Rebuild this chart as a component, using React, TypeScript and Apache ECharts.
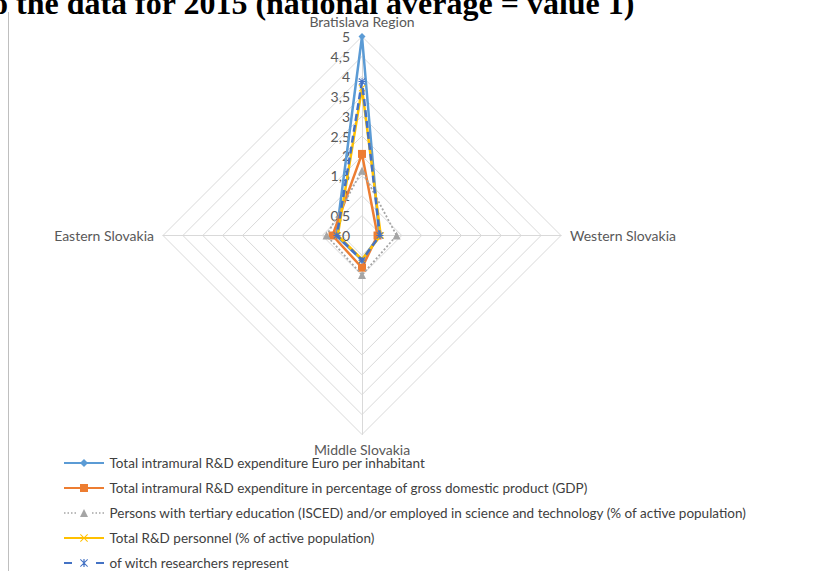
import React, { useEffect, useRef } from "react";
import * as echarts from "echarts";

const regions = ["Bratislava Region", "Eastern Slovakia", "Middle Slovakia", "Western Slovakia"];
const seriesNames = [
  "Total intramural R&D expenditure Euro per inhabitant",
  "Total intramural R&D expenditure in percentage of gross domestic product (GDP)",
  "Persons with tertiary education (ISCED) and/or employed in science and technology (% of active population)",
  "Total R&D personnel (% of active population)",
  "of witch researchers represent",
];
// values in order: Bratislava, Eastern, Middle, Western
const euroPerInhabitant = [5.0, 0.65, 0.62, 0.43];
const gdpShare = [2.05, 0.74, 0.81, 0.39];
const tertiaryEducation = [1.63, 0.89, 0.99, 0.87];
const rdPersonnel = [3.7, 0.61, 0.6, 0.47];
const researchers = [3.87, 0.63, 0.62, 0.45];
const axisMin = 0;
const axisMax = 5;
const axisSplits = 10;
const titleText = "o the data for 2015 (national average = value 1)";

const FONT = "Lato";

const icons = [
  "path://M0,3H40V5H0Z M20,0L24,4L20,8L16,4Z",
  "path://M0,3H40V5H0Z M16,0H24V8H16Z",
  "path://M0,3.3h1.5v1.5h-1.5Z M3.5,3.3h1.5v1.5h-1.5Z M7,3.3h1.5v1.5h-1.5Z M10.5,3.3h1.5v1.5h-1.5Z M28,3.3h1.5v1.5h-1.5Z M31.5,3.3h1.5v1.5h-1.5Z M35,3.3h1.5v1.5h-1.5Z M38.5,3.3h1.5v1.5h-1.5Z M20,0L24,8L16,8Z",
  "path://M0,3H40V5H0Z M16,0.7L16.7,0L20,3.3L23.3,0L24,0.7L20.7,4L24,7.3L23.3,8L20,4.7L16.7,8L16,7.3L19.3,4Z",
  "path://M0,3H8V5H0Z M32,3H40V5H32Z M16,0.7L16.7,0L20,3.3L23.3,0L24,0.7L20.7,4L24,7.3L23.3,8L20,4.7L16.7,8L16,7.3L19.3,4Z M19.4,0H20.6V8H19.4Z",
];

const xMark = "path://M0,1L1,0L5,4L9,0L10,1L6,5L10,9L9,10L5,6L1,10L0,9L4,5Z";
const asterisk = "path://M0,1L1,0L5,4L9,0L10,1L6,5L10,9L9,10L5,6L1,10L0,9L4,5Z M4.4,0H5.6V10H4.4Z M0,4.4H10V5.6H0Z";

export default function App() {
  const ref = useRef<HTMLDivElement>(null);
  useEffect(() => {
    if (!ref.current) return;
    const chart = echarts.init(ref.current, undefined, { renderer: "svg" });
    const mk = (
      name: string,
      values: number[],
      color: string,
      symbol: string,
      symbolSize: number,
      lineType: any,
      width: number,
      z: number
    ) => ({
      type: "radar",
      name,
      z,
      symbol,
      symbolSize,
      lineStyle: { color, width, type: lineType },
      itemStyle: { color, borderWidth: 0 },
      data: [{ name, value: values }],
    });
    chart.setOption({
      animation: false,
      backgroundColor: "#ffffff",
      graphic: [
        {
          type: "text",
          x: -8,
          y: 3,
          z: 1,
          style: {
            text: titleText,
            fontSize: 32,
            lineHeight: 20,
            fontWeight: "bold",
            fontFamily: "Liberation Serif",
            fill: "#000000",
            verticalAlign: "middle",
          },
        },
        {
          type: "line",
          shape: { x1: 8.5, y1: 12, x2: 8.5, y2: 571 },
          style: { stroke: "#BFBFBF", lineWidth: 1 },
        },
      ],
      legend: {
        orient: "vertical",
        left: 64,
        top: 456,
        height: 130,
        padding: 0,
        itemWidth: 41,
        itemHeight: 8,
        itemGap: 11,
        itemStyle: { borderWidth: 0 },
        textStyle: { color: "#404040", fontSize: 13.5, fontFamily: FONT, lineHeight: 14 },
        data: seriesNames.map((n, i) => ({ name: n, icon: icons[i] })),
      },
      radar: {
        center: [362, 235.5],
        radius: 199,
        startAngle: 90,
        splitNumber: axisSplits,
        shape: "polygon",
        nameGap: 9,
        axisName: { color: "#595959", fontSize: 14, lineHeight: 12, fontFamily: FONT },
        splitLine: { lineStyle: { color: "#D9D9D9", width: 1 } },
        splitArea: { show: false },
        axisLine: { lineStyle: { color: "#D9D9D9", width: 1 } },
        axisTick: { show: false },
        axisLabel: {
          show: false,
          color: "#595959",
          fontSize: 14,
          fontFamily: FONT,
          margin: 12,
          formatter: (v: number) => String(v).replace(".", ","),
        },
        indicator: regions.map((r, i) => ({
          name: r,
          min: axisMin,
          max: axisMax,
          ...(i === 0 ? { axisLabel: { show: true } } : {}),
        })),
      },
      series: [
        mk(seriesNames[0], euroPerInhabitant, "#5B9BD5", "diamond", 7, "solid", 2.5, 2),
        mk(seriesNames[1], gdpShare, "#ED7D31", "rect", 8, "solid", 2.5, 3),
        mk(seriesNames[2], tertiaryEducation, "#A5A5A5", "triangle", 8, [2, 2], 1.8, 4),
        mk(seriesNames[3], rdPersonnel, "#FFC000", xMark, 7, "solid", 2.5, 5),
        mk(seriesNames[4], researchers, "#4472C4", asterisk, 7, [7, 4], 2.5, 6),
      ],
    });
    return () => chart.dispose();
  }, []);
  return (
    <div
      ref={ref}
      style={{ position: "absolute", left: 0, top: 0, width: 814, height: 571 }}
    />
  );
}
